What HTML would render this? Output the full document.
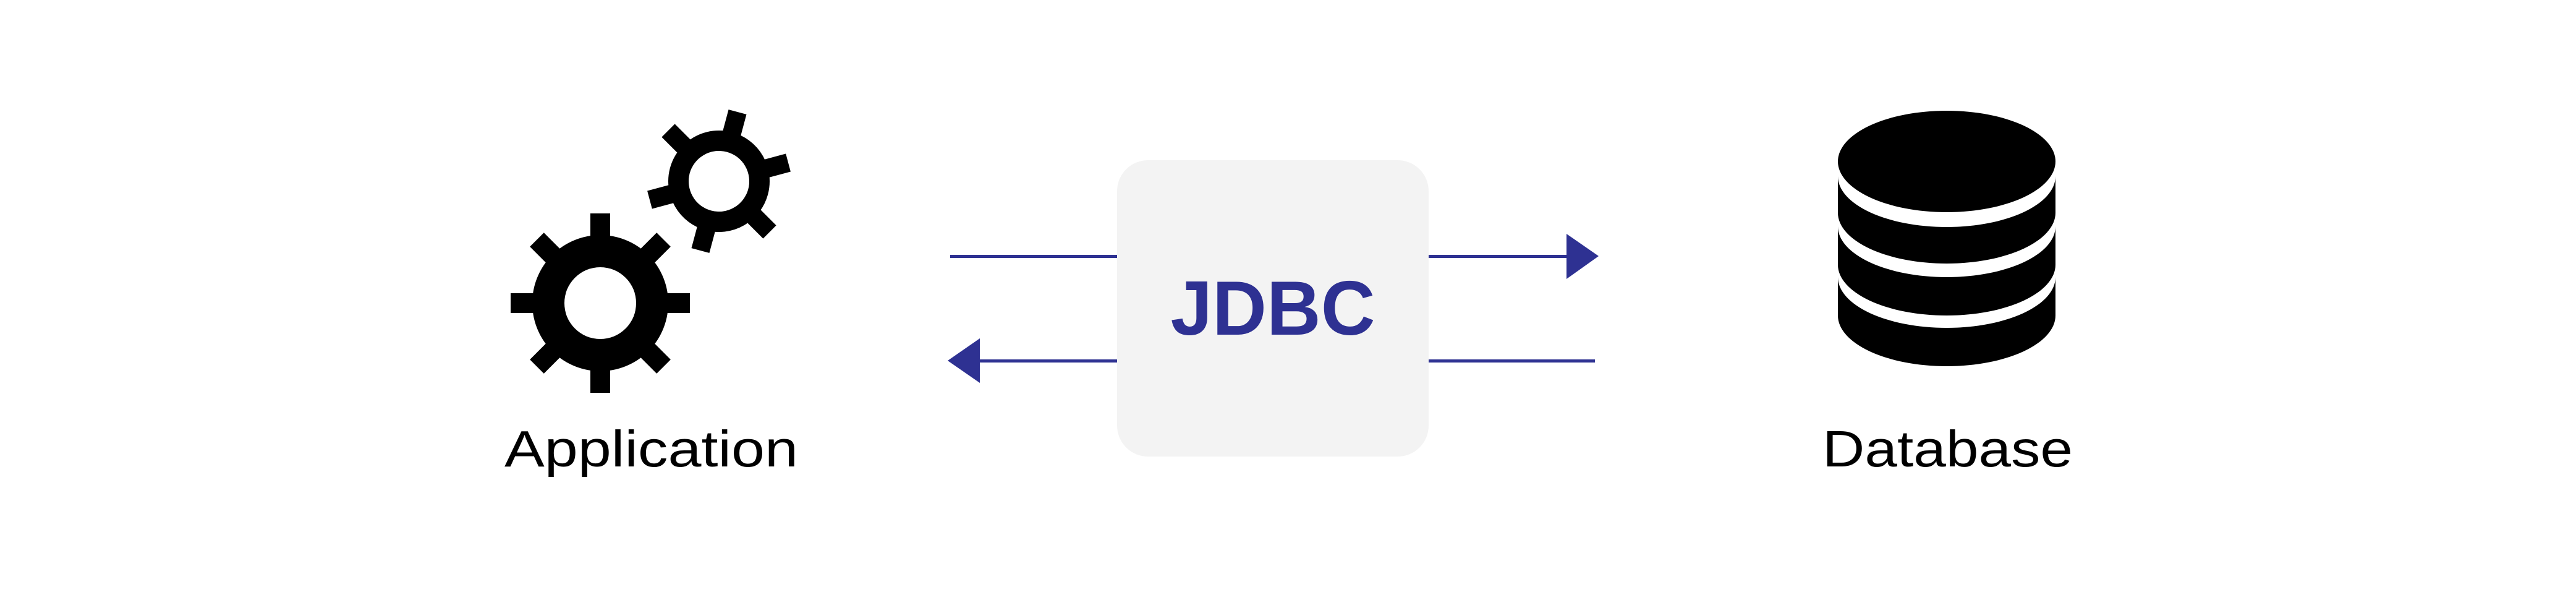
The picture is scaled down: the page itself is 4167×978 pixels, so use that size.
<!DOCTYPE html>
<html><head><meta charset="utf-8"><style>
html,body{margin:0;padding:0;background:#fff;}
svg{display:block;}
</style></head><body>
<svg width="4167" height="978" viewBox="0 0 4167 978" xmlns="http://www.w3.org/2000/svg">
<rect width="4167" height="978" fill="#fff"/>
<!-- big gear -->
<g transform="translate(971,490)">
  <g fill="#000">
    <rect x="-16" y="-145" width="32" height="290"/>
    <rect x="-16" y="-145" width="32" height="290" transform="rotate(45)"/>
    <rect x="-16" y="-145" width="32" height="290" transform="rotate(90)"/>
    <rect x="-16" y="-145" width="32" height="290" transform="rotate(135)"/>
  </g>
  <circle r="84" fill="none" stroke="#000" stroke-width="52"/>
  <circle r="58" fill="#fff"/>
</g>
<!-- small gear -->
<g transform="translate(1163,293) rotate(15)">
  <g fill="#000">
    <rect x="-15" y="-116" width="30" height="232"/>
    <rect x="-15" y="-116" width="30" height="232" transform="rotate(60)"/>
    <rect x="-15" y="-116" width="30" height="232" transform="rotate(120)"/>
  </g>
  <circle r="65.5" fill="none" stroke="#000" stroke-width="33"/>
  <circle r="49" fill="#fff"/>
</g>
<text x="816" y="754" font-family="Liberation Sans, sans-serif" font-size="83" fill="#000" textLength="475" lengthAdjust="spacingAndGlyphs">Application</text>

<!-- JDBC box -->
<rect x="1807" y="259" width="504" height="479" rx="50" ry="50" fill="#f3f3f3"/>
<text x="2059" y="541" text-anchor="middle" font-family="Liberation Sans, sans-serif" font-weight="bold" font-size="124" fill="#2e3192" textLength="331" lengthAdjust="spacingAndGlyphs">JDBC</text>

<!-- arrows -->
<g fill="#2e3192">
  <rect x="1537" y="412" width="270" height="5"/>
  <rect x="2311" y="412" width="225" height="5"/>
  <polygon points="2534,378 2586,414 2534,451"/>
  <rect x="1585" y="581" width="222" height="5"/>
  <rect x="2311" y="581" width="269" height="5"/>
  <polygon points="1585,547 1533,583 1585,619"/>
</g>

<!-- database -->
<g fill="#000">
  <ellipse cx="3149" cy="261" rx="176" ry="82"/>
  <path d="M2973,285 L2973,344 A176 82 0 0 0 3325,344 L3325,285 A176 82 0 0 1 2973,285 Z"/>
  <path d="M2973,366 L2973,428 A176 82 0 0 0 3325,428 L3325,366 A176 82 0 0 1 2973,366 Z"/>
  <path d="M2973,448 L2973,510 A176 82 0 0 0 3325,510 L3325,448 A176 82 0 0 1 2973,448 Z"/>
</g>
<text x="2948" y="754" font-family="Liberation Sans, sans-serif" font-size="83" fill="#000" textLength="405" lengthAdjust="spacingAndGlyphs">Database</text>
</svg>
</body></html>
